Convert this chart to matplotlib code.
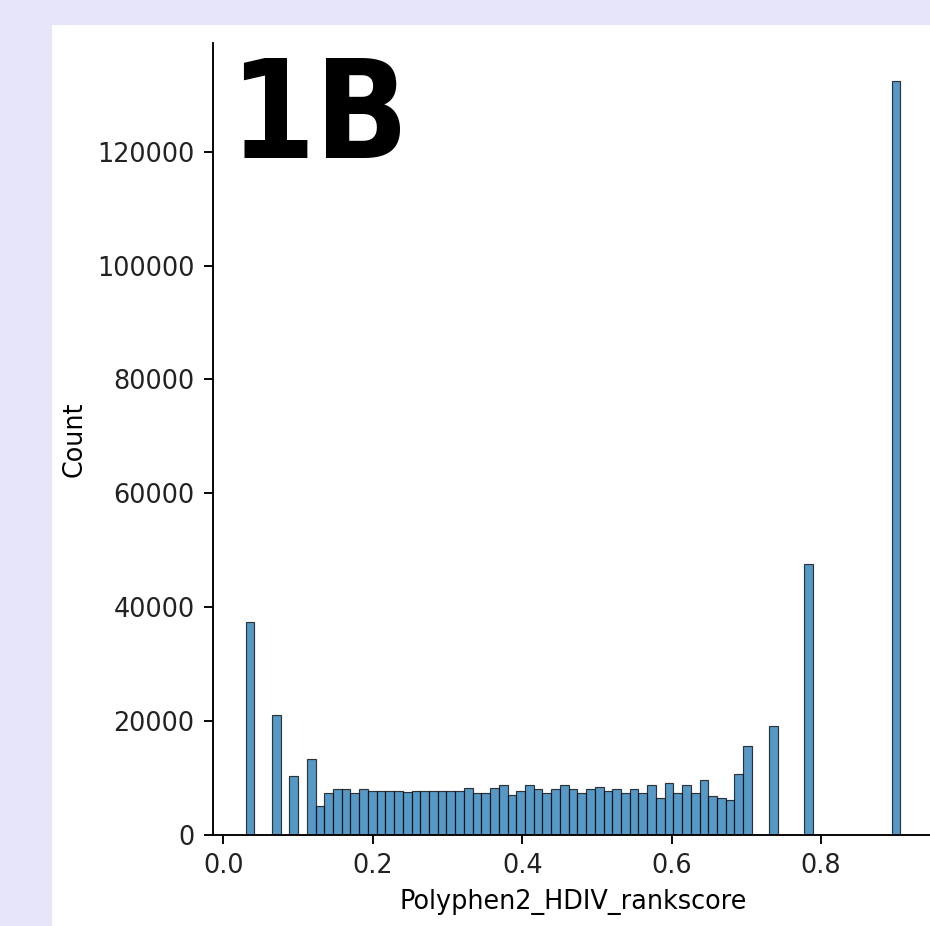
import numpy as np
import matplotlib
matplotlib.use("Agg")
import matplotlib.pyplot as plt
from matplotlib.patches import Rectangle

# histogram range and number of bins
bin_lo = 0.030
bin_hi = 0.906
n_bins = 75

# counts per bin index (bins not listed are empty)
bin_index = [0, 3, 5, 7] + list(range(8, 58)) + [60, 64, 74]
bin_count = [
    37350, 21070, 10360, 13290,
    5150, 7430, 8020, 8020, 7430, 8020, 7730, 7730, 7730, 7730,
    7490, 7730, 7730, 7730, 7730, 7730, 7730, 8310, 7430, 7430,
    8340, 8780, 7080, 7760, 8720, 8050, 7430, 8050, 8720, 8050,
    7430, 8050, 8370, 7760, 8050, 7430, 8050, 7430, 8720, 6500,
    9080, 7460, 8720, 7460, 9660, 6790, 6500, 6150, 10770, 15630,
    19140, 47590, 132450,
]

x_label = "Polyphen2_HDIV_rankscore"
y_label = "Count"
panel_tag = "1B"

plt.rcParams["font.size"] = 10.8
plt.rcParams["text.color"] = "#222222"
plt.rcParams["xtick.labelcolor"] = "#222222"
plt.rcParams["ytick.labelcolor"] = "#222222"

dpi = 170
fig = plt.figure(figsize=(930 / dpi, 926 / dpi), dpi=dpi)
fig.patch.set_facecolor("lavender")

# white panel behind the plot
fig.patches.append(Rectangle((52 / 930, 0), 1 - 52 / 930, (926 - 25) / 926,
                             transform=fig.transFigure, facecolor="white",
                             edgecolor="none", zorder=-10))

ax = fig.add_axes([213 / 930, 91 / 926, 720 / 930, 792 / 926])
ax.set_facecolor("none")
ax.set_zorder(1)

edges = np.linspace(bin_lo, bin_hi, n_bins + 1)
width = edges[1] - edges[0]
counts = np.zeros(n_bins)
counts[bin_index] = bin_count
left = edges[:-1][counts > 0]
heights = counts[counts > 0]

ax.bar(left, heights, width=width, align="edge", color="#1f77b4",
       edgecolor="black", linewidth=0.5, alpha=0.75)

ax.set_xlim(bin_lo - 0.05 * (bin_hi - bin_lo), bin_hi + 0.05 * (bin_hi - bin_lo))
ax.set_ylim(0, max(bin_count) * 1.05)
ax.set_xticks([0.0, 0.2, 0.4, 0.6, 0.8])
ax.set_yticks(np.arange(0, 120001, 20000))
ax.tick_params(length=3.8, pad=4)

ax.spines["top"].set_visible(False)
ax.spines["right"].set_visible(False)
ax.set_xlabel(x_label)
ax.set_ylabel(y_label)

fig.text(229 / 930, (926 - 158) / 926, panel_tag, fontsize=58,
         fontweight="bold", fontstretch="condensed", va="baseline", ha="left",
         color="black", zorder=5)

fig.savefig("out.png", dpi=dpi, facecolor=fig.get_facecolor())
